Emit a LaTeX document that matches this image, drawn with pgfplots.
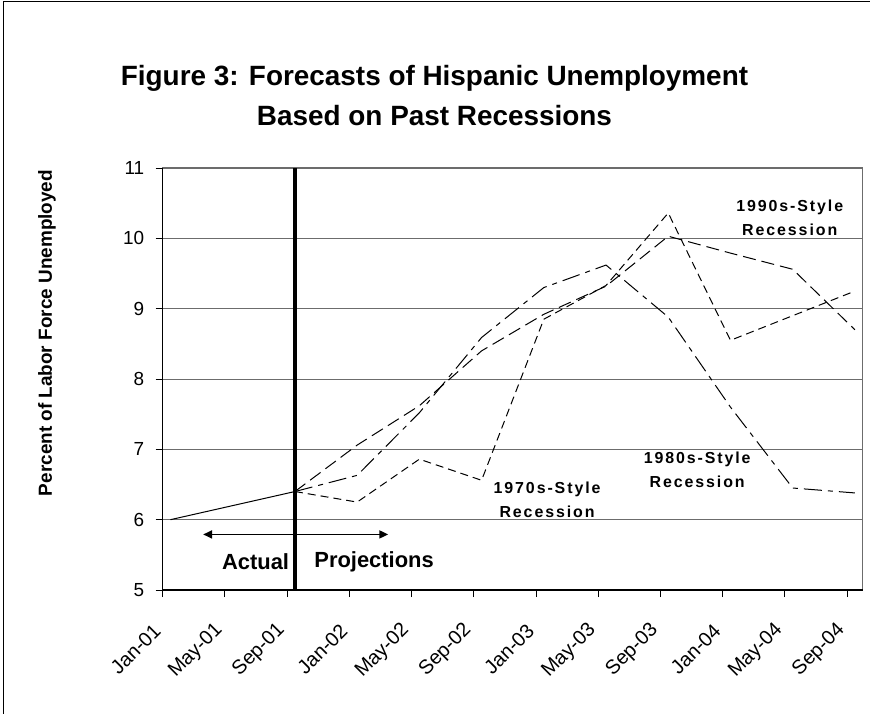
\documentclass[border=0pt]{standalone}
\usepackage{fontspec}
\setmainfont{Liberation Sans}
\newfontfamily\spaced[LetterSpace=12]{Liberation Sans}
\usepackage{pgfplots}
\pgfplotsset{compat=1.18}
\usetikzlibrary{arrows.meta}

% months since Jan-01, each value sits in the middle of its month
\pgfplotstableread{
x    y
0.5  6.00
8.5  6.40
}\actual

\pgfplotstableread{
x     s70   s80   s90
8.5   6.40  6.40  6.40
12.5  6.25  6.63  7.06
16.5  6.86  7.52  7.62
20.5  6.56  8.59  8.40
24.5  8.85  9.30  8.92
28.5  9.33  9.62  9.32
32.5  10.36 8.88  10.03
36.5  8.55  7.60  9.79
40.5  8.90  6.45  9.56
44.5  9.25  6.38  8.70
}\proj

\begin{document}
\begin{tikzpicture}
\begin{axis}[
    name=ax,
    scale only axis, width=700bp, height=422bp,
    xmin=0, xmax=45, ymin=5, ymax=11,
    xtick={0,4,...,44},
    xticklabels={Jan-01,May-01,Sep-01,Jan-02,May-02,Sep-02,Jan-03,May-03,Sep-03,Jan-04,May-04,Sep-04},
    ytick={5,6,...,11},
    tick pos=left, tick align=outside,
    major tick length=7bp,
    tick style={black, line width=1bp},
    axis line style={draw=gray!85!black, line width=1.2bp},
    ymajorgrids, grid style={gray!85!black, line width=0.9bp},
    ticklabel style={font=\fontsize{19}{21}\selectfont},
    /pgf/number format/assume math mode=true,
    xticklabel style={font=\fontsize{20}{22}\selectfont, yshift=-28bp, xshift=-3bp, rotate=45, anchor=east},
    yticklabel style={xshift=-8bp},
    clip=false,
]
\addplot[black, line width=1bp] table[x=x,y=y] {\actual};
\addplot[black, line width=1bp, dash pattern=on 8bp off 5bp] table[x=x,y=s70] {\proj};
\addplot[black, line width=1bp, dash pattern=on 18bp off 6bp on 5bp off 6bp] table[x=x,y=s80] {\proj};
\addplot[black, line width=1bp, dash pattern=on 13bp off 6bp] table[x=x,y=s90] {\proj};
\addplot[black, line width=3.5bp] coordinates {(8.5,5) (8.5,11)};

\draw[black, line width=1.4bp] (rel axis cs:0,1) -- (rel axis cs:0,0) -- (rel axis cs:1,0);
\draw[line width=1.8bp, {Triangle[length=9bp,width=8bp]}-{Triangle[length=9bp,width=8bp]}]
    (axis cs:2.6,5.79) -- (axis cs:14.5,5.79);

\node[font=\bfseries\fontsize{22}{24}\selectfont] at (axis cs:5.97,5.40) {Actual};
\node[font=\bfseries\fontsize{22}{24}\selectfont] at (axis cs:13.59,5.40) {Projections};
\node[align=center, inner sep=0, font=\spaced\bfseries\fontsize{16}{23.7}\selectfont] at (axis cs:24.71,6.28) {1970s-Style\\Recession};
\node[align=center, inner sep=0, font=\spaced\bfseries\fontsize{16}{23.7}\selectfont] at (axis cs:34.36,6.71) {1980s-Style\\Recession};
\node[align=center, inner sep=0, font=\spaced\bfseries\fontsize{16}{23.7}\selectfont] at (axis cs:40.31,10.29) {1990s-Style\\Recession};
\end{axis}

% page frame, titles and y label, placed relative to the plot area corner
\path (ax.south west) ++(-162.7bp,-124bp) coordinate (O);
\begin{scope}[shift={(O)}, x=1bp, y=1bp]
\draw[line width=1.2bp] (3.5,0) -- (3.5,712.5) -- (870,712.5);
\node[font=\bfseries\fontsize{28}{30}\selectfont] at (434.5,636) {Figure 3: Forecasts of Hispanic Unemployment};
\node[font=\bfseries\fontsize{28}{30}\selectfont] at (434.5,598) {Based on Past Recessions};
\node[rotate=90,font=\bfseries\fontsize{19}{22}\selectfont] at (47,381) {Percent of Labor Force Unemployed};
\end{scope}
\pgfresetboundingbox
\path[use as bounding box] (O) rectangle ++(872bp,714bp);
\end{tikzpicture}
\end{document}
